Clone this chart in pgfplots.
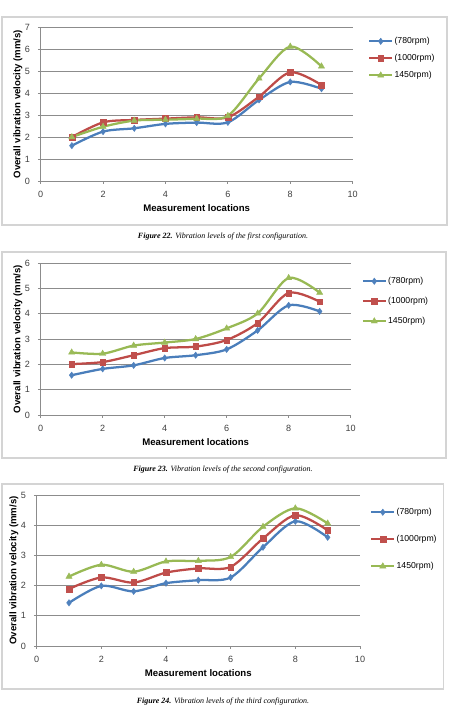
\documentclass[border=0pt]{standalone}
\usepackage{pgfplots}
\pgfplotsset{compat=1.18}
\usepackage{fontspec}
\setmainfont{Liberation Serif}
\setsansfont{Liberation Sans}
\definecolor{c1}{HTML}{4A7EBB}
\definecolor{c1m}{HTML}{4F81BD}
\definecolor{c2}{HTML}{BE4B48}
\definecolor{c2m}{HTML}{C0504D}
\definecolor{c3}{HTML}{98B954}
\definecolor{c3m}{HTML}{9BBB59}
\definecolor{gridc}{HTML}{8C8C8C}
\definecolor{framec}{HTML}{D4D4D4}
\definecolor{tickc}{HTML}{404040}
\pgfplotsset{
 vib/.style={
   scale only axis,
   xmin=0,xmax=10, xtick={0,2,...,10}, ymin=0,
   axis x line*=bottom, axis y line*=left,
   axis line style={gridc, line width=0.6pt, -},
   ymajorgrids, grid style={gridc, line width=0.6pt},
   tick style={gridc, line width=0.6pt}, major tick length=2pt, tick align=outside,
   ticklabel style={font=\sffamily\fontsize{6.8}{7}\selectfont, text=tickc},
   /pgf/number format/assume math mode=true,
   xlabel={Measurement locations}, ylabel={Overall vibration velocity (mm/s)},
   label style={font=\sffamily\bfseries\fontsize{7.2}{8}\selectfont},
   x label style={at={(axis description cs:0.5,0)}, anchor=center, yshift=-20.5pt},
   y label style={at={([xshift=-17pt]axis description cs:0,0.5)}, anchor=center},
   yticklabel style={xshift=-2.5pt},
   xticklabel style={yshift=-2pt},
   legend cell align=left,
   legend style={draw=none, fill=none, inner sep=0pt, anchor=north west,
     font=\sffamily\fontsize{6.5}{7}\selectfont,
     nodes={inner sep=1pt, text height=5pt, text depth=1.5pt}},
   every axis plot/.append style={line width=1.7pt, smooth, tension=0.5},
 },
 s1/.style={color=c1, mark=diamond*, mark size=2.4pt, mark options={fill=c1m, draw=c1m, line width=0.3pt}},
 s2/.style={color=c2, mark=square*, mark size=2.2pt, mark options={fill=c2m, draw=c2m, line width=0.3pt}},
 s3/.style={color=c3, mark=triangle*, mark size=2.7pt, mark options={fill=c3m, draw=c3m, line width=0.3pt}},
}
\begin{document}
\begin{tikzpicture}
\path[use as bounding box] (0,0) rectangle (340.5pt,532.5pt);
% frames
\draw[framec, line width=0.8pt] (1.5pt,363.75pt) rectangle (335.25pt,519.75pt);
\draw[framec, line width=0.8pt] (1.5pt,189pt) rectangle (334.5pt,343.5pt);
\draw[framec, line width=0.8pt] (1.5pt,15.75pt) rectangle (332.5pt,169.5pt);
% chart 1
\begin{axis}[vib, at={(30.5pt,396.75pt)}, anchor=south west, width=234pt, height=115.3pt,
  ymax=7, ytick={0,1,...,7},
  legend style={at={(1.049,0.947)}, row sep=4.25pt}]
\addplot[s1] coordinates {(1,1.61) (2,2.25) (3,2.40) (4,2.60) (5,2.66) (6,2.67) (7,3.69) (8,4.51) (9,4.20)};
\addplot[s2] coordinates {(1,2.00) (2,2.67) (3,2.78) (4,2.84) (5,2.90) (6,2.90) (7,3.84) (8,4.95) (9,4.37)};
\addplot[s3] coordinates {(1,2.00) (2,2.47) (3,2.75) (4,2.79) (5,2.84) (6,2.97) (7,4.67) (8,6.12) (9,5.22)};
\legend{(780rpm),(1000rpm),1450rpm)}
\end{axis}
\node[font=\fontsize{6}{7}\selectfont\itshape] at (167.25pt,354.75pt) {\textbf{Figure 22.} Vibration levels of the first configuration.};
% chart 2
\begin{axis}[vib, at={(30.5pt,221.25pt)}, anchor=south west, width=232.5pt, height=114pt,
  ymax=6, ytick={0,1,...,6},
  legend style={at={(1.035,0.919)}, row sep=6.5pt}]
\addplot[s1] coordinates {(1,1.57) (2,1.82) (3,1.96) (4,2.25) (5,2.36) (6,2.59) (7,3.34) (8,4.33) (9,4.09)};
\addplot[s2] coordinates {(1,2.01) (2,2.09) (3,2.36) (4,2.64) (5,2.70) (6,2.96) (7,3.63) (8,4.82) (9,4.47)};
\addplot[s3] coordinates {(1,2.47) (2,2.42) (3,2.74) (4,2.86) (5,3.00) (6,3.42) (7,4.01) (8,5.41) (9,4.83)};
\legend{(780rpm),(1000rpm),1450rpm)}
\end{axis}
\node[font=\fontsize{6}{7}\selectfont\itshape] at (167.25pt,180pt) {\textbf{Figure 23.} Vibration levels of the second configuration.};
% chart 3
\begin{axis}[vib, at={(27.5pt,48pt)}, anchor=south west, width=242.5pt, height=113.25pt,
  ymax=5, ytick={0,1,...,5},
  legend style={at={(1.031,0.925)}, row sep=11.75pt}]
\addplot[s1] coordinates {(1,1.43) (2,1.99) (3,1.81) (4,2.08) (5,2.18) (6,2.27) (7,3.27) (8,4.13) (9,3.60)};
\addplot[s2] coordinates {(1,1.89) (2,2.27) (3,2.10) (4,2.43) (5,2.57) (6,2.62) (7,3.56) (8,4.33) (9,3.83)};
\addplot[s3] coordinates {(1,2.30) (2,2.69) (3,2.46) (4,2.80) (5,2.82) (6,2.95) (7,3.95) (8,4.56) (9,4.06)};
\legend{(780rpm),(1000rpm),1450rpm)}
\end{axis}
\node[font=\fontsize{6}{7}\selectfont\itshape] at (167.25pt,6pt) {\textbf{Figure 24.} Vibration levels of the third configuration.};
\end{tikzpicture}
\end{document}
